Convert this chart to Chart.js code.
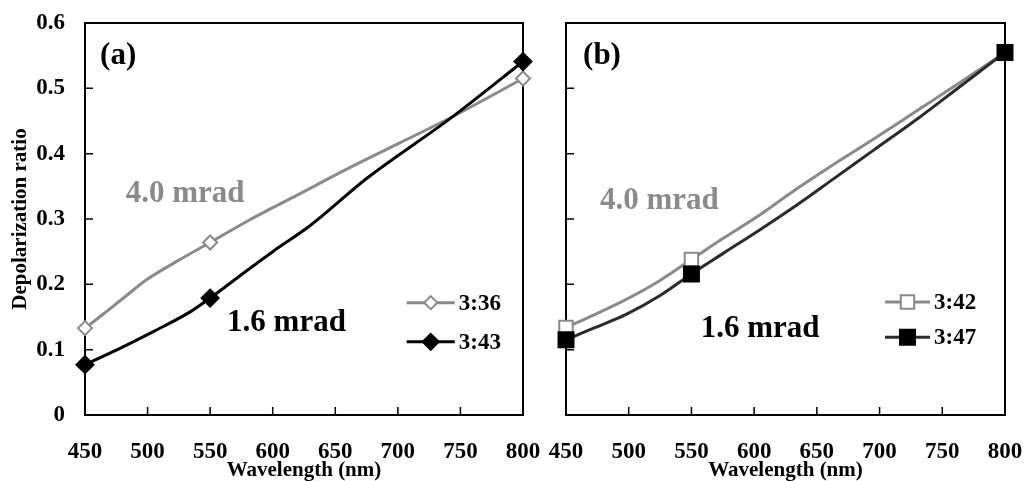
<!DOCTYPE html>
<html>
<head>
<meta charset="utf-8">
<script src="https://cdn.jsdelivr.net/npm/chart.js@4.4.1/dist/chart.umd.min.js"></script>
<style>
  html, body { margin: 0; padding: 0; background: #fff; }
  #wrap { position: relative; width: 1024px; height: 481px; overflow: hidden; }
  canvas { position: absolute; top: 0; }
  #chartA { left: 0; }
  #chartB { left: 545px; }
</style>
</head>
<body>
<div id="wrap">
  <canvas id="chartA" width="545" height="481"></canvas>
  <canvas id="chartB" width="479" height="481"></canvas>
</div>
<script>
// panel (a)
const wlA36 = [450, 465, 480, 500, 525, 550, 580, 620, 660, 700, 742, 800];
const ratioA36 = [0.133, 0.155, 0.178, 0.208, 0.237, 0.264, 0.297, 0.337, 0.377, 0.415, 0.455, 0.515];
const wlA43 = [450, 480, 505, 535, 550, 580, 600, 630, 675, 742, 800];
const ratioA43 = [0.077, 0.104, 0.128, 0.159, 0.179, 0.222, 0.250, 0.290, 0.362, 0.454, 0.541];

// panel (b)
const wlB = [450, 472, 498, 525, 550, 575, 605, 630, 663, 695, 730, 765, 800];
const ratioB42 = [0.134, 0.153, 0.177, 0.206, 0.238, 0.270, 0.307, 0.341, 0.383, 0.422, 0.466, 0.510, 0.555];
const ratioB47 = [0.115, 0.133, 0.154, 0.183, 0.216, 0.247, 0.284, 0.316, 0.361, 0.405, 0.453, 0.504, 0.555];

const markerWavelengths = [450, 550, 800];
const xRange = [450, 800];
const yRange = [0, 0.6];

const serif = "'Liberation Serif', 'Times New Roman', serif";
const GRAY = '#8a8a8a';

Chart.defaults.font.family = serif;
Chart.defaults.color = '#000';

function series(label, wl, vals, opts) {
  return {
    label,
    data: wl.map((w, i) => ({ x: w, y: vals[i] })),
    borderColor: opts.color,
    borderWidth: 3,
    cubicInterpolationMode: 'monotone',
    pointStyle: opts.style,
    pointRadius: (c) => markerWavelengths.includes(wl[c.dataIndex]) ? opts.radius : 0,
    pointBackgroundColor: opts.fill,
    pointBorderColor: opts.markerColor || opts.color,
    pointBorderWidth: 2,
    legendRadius: opts.legendRadius,
    order: opts.order,
    clip: false,
  };
}

// box round the plot and inward tick marks
const frameTicks = {
  id: 'frameTicks',
  beforeDatasetsDraw(chart) {
    const { ctx, chartArea: a, scales } = chart;
    ctx.save();
    ctx.strokeStyle = '#000';
    ctx.lineWidth = 2;
    ctx.strokeRect(a.left, a.top, a.right - a.left, a.bottom - a.top);
    ctx.lineWidth = 1.5;
    ctx.beginPath();
    scales.x.ticks.forEach((t) => {
      const px = scales.x.getPixelForValue(t.value);
      if (px <= a.left + 1 || px >= a.right - 1) return;
      ctx.moveTo(px, a.bottom);
      ctx.lineTo(px, a.bottom - 8);
    });
    scales.y.ticks.forEach((t) => {
      const py = scales.y.getPixelForValue(t.value);
      if (py <= a.top + 1 || py >= a.bottom - 1) return;
      ctx.moveTo(a.left, py);
      ctx.lineTo(a.left + 8, py);
    });
    ctx.stroke();
    ctx.restore();
  },
};

// panel letter, mrad notes and the small legend
const notes = {
  id: 'notes',
  afterDatasetsDraw(chart, args, opts) {
    const { ctx, scales: { x, y } } = chart;
    ctx.save();
    ctx.textBaseline = 'middle';
    ctx.textAlign = 'center';
    opts.labels.forEach((l) => {
      ctx.font = `bold ${l.size}px ${serif}`;
      ctx.fillStyle = l.color;
      ctx.fillText(l.text, x.getPixelForValue(l.x), y.getPixelForValue(l.y));
    });
    const lg = opts.legend;
    chart.data.datasets.forEach((ds, i) => {
      const py = y.getPixelForValue(lg.rows[i]);
      const x0 = x.getPixelForValue(lg.x0);
      const x1 = x.getPixelForValue(lg.x1);
      ctx.strokeStyle = ds.borderColor;
      ctx.lineWidth = ds.borderWidth;
      ctx.beginPath();
      ctx.moveTo(x0, py);
      ctx.lineTo(x1, py);
      ctx.stroke();
      ctx.fillStyle = ds.pointBackgroundColor;
      ctx.strokeStyle = ds.pointBorderColor;
      ctx.lineWidth = ds.pointBorderWidth;
      Chart.helpers.drawPoint(ctx, {
        pointStyle: ds.pointStyle, radius: ds.legendRadius,
        borderWidth: ds.pointBorderWidth, rotation: 0,
      }, (x0 + x1) / 2, py);
      ctx.fillStyle = '#000';
      ctx.textAlign = 'left';
      ctx.font = `bold 23px ${serif}`;
      ctx.fillText(ds.label, x1 + 4, py + 1);
    });
    ctx.restore();
  },
};

function makeOptions(withYLabels, yWidth, rightPad, noteOpts) {
  return {
    responsive: false,
    animation: false,
    layout: { padding: { top: 23, right: rightPad, left: 0, bottom: 0 } },
    plugins: {
      legend: { display: false },
      tooltip: { enabled: false },
      notes: noteOpts,
    },
    scales: {
      x: {
        type: 'linear',
        min: xRange[0],
        max: xRange[1],
        grid: { display: false, drawTicks: false },
        border: { display: false },
        ticks: {
          stepSize: 50, autoSkip: false, maxRotation: 0, padding: 23,
          font: { size: 23, weight: 'bold' }, color: '#000',
        },
        title: {
          display: true, text: 'Wavelength (nm)', color: '#000',
          font: { size: 21, weight: 'bold' }, padding: { top: 0, bottom: -2 },
        },
        afterFit: (s) => { s.height = 66; s.paddingLeft = 0; s.paddingRight = 0; },
      },
      y: {
        min: yRange[0],
        max: yRange[1],
        grid: { display: false, drawTicks: false },
        border: { display: false },
        ticks: {
          display: withYLabels,
          stepSize: 0.1, padding: 20,
          font: { size: 23, weight: 'bold' }, color: '#000',
          callback: (v) => (v === 0 ? '0' : v.toFixed(1)),
        },
        title: {
          display: withYLabels, text: 'Depolarization ratio', color: '#000',
          font: { size: 21, weight: 'bold' }, padding: { top: 8, bottom: 0 },
        },
        afterFit: (s) => { s.width = yWidth; s.paddingTop = 0; s.paddingBottom = 0; },
      },
    },
  };
}

new Chart(document.getElementById('chartA'), {
  type: 'line',
  data: {
    datasets: [
      series('3:36', wlA36, ratioA36, { color: GRAY, style: 'rectRot', radius: 7, legendRadius: 6.5, fill: '#fff', order: 1 }),
      series('3:43', wlA43, ratioA43, { color: '#000', style: 'rectRot', radius: 8.5, legendRadius: 8, fill: '#000', order: 0 }),
    ],
  },
  options: makeOptions(true, 85, 22, {
    labels: [
      { text: '(a)', x: 476.5, y: 0.549, size: 31, color: '#000' },
      { text: '4.0 mrad', x: 530, y: 0.339, size: 31, color: GRAY },
      { text: '1.6 mrad', x: 611, y: 0.141, size: 31, color: '#000' },
    ],
    legend: { x0: 707, x1: 745.5, rows: [0.172, 0.112] },
  }),
  plugins: [frameTicks, notes],
});

new Chart(document.getElementById('chartB'), {
  type: 'line',
  data: {
    datasets: [
      series('3:42', wlB, ratioB42, { color: GRAY, style: 'rect', radius: 9.5, legendRadius: 9.5, fill: '#fff', order: 1 }),
      series('3:47', wlB, ratioB47, { color: '#2b2b2b', markerColor: '#000', style: 'rect', radius: 10.6, legendRadius: 10.6, fill: '#000', order: 0 }),
    ],
  },
  options: makeOptions(false, 21, 19, {
    labels: [
      { text: '(b)', x: 478.7, y: 0.549, size: 31, color: '#000' },
      { text: '4.0 mrad', x: 524.5, y: 0.327, size: 31, color: GRAY },
      { text: '1.6 mrad', x: 604.7, y: 0.1315, size: 31, color: '#000' },
    ],
    legend: { x0: 704.3, x1: 740.2, rows: [0.173, 0.119] },
  }),
  plugins: [frameTicks, notes],
});
</script>
</body>
</html>
